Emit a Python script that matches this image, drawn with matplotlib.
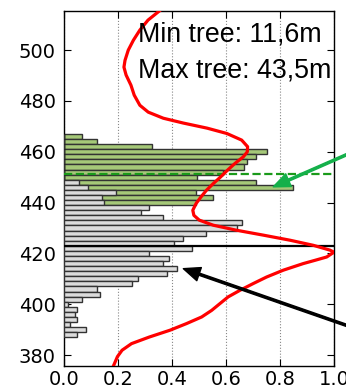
import numpy as np
import matplotlib
matplotlib.use('Agg')
import matplotlib.pyplot as plt

# height classes (lower edge, m), 2 m wide
bin_low = np.arange(465, 385, -2)

# all trees (grey) and upper layer (green), relative frequency
grey_vals = [0, 0, 0, 0, 0, 0, 0, 0, 0,
             0.057, 0.090, 0.191, 0.142, 0.149, 0.316, 0.284, 0.365,
             0.660, 0.642, 0.525, 0.442, 0.407, 0.475, 0.316, 0.390,
             0.365, 0.420, 0.383, 0.275, 0.251, 0.123, 0.132, 0.065,
             0.016, 0.049, 0.041, 0.049, 0.022, 0.081, 0.047]
green_vals = [0.065, 0.123, 0.326, 0.751, 0.710, 0.677, 0.668, 0.590, 0.494,
              0.710, 0.849, 0.49, 0.55, 0.49] + [0] * 26

# density curve (height, scaled density)
kde_h = [515.4, 511.8, 507.9, 503.9, 500.0, 496.0, 493.3, 490.2, 486.2, 482.3,
         478.3, 475.6, 473.2, 471.3, 469.3, 467.2, 464.6, 462.0, 460.0, 458.0,
         455.4, 452.8, 450.1, 447.5, 444.9, 442.2, 439.6, 437.0, 435.0, 433.1,
         431.1, 429.1, 427.2, 425.2, 423.2, 421.3, 420.5, 418.6, 417.3, 416.0,
         413.4, 410.7, 408.1, 405.5, 402.9, 400.3, 397.6, 395.0, 392.4, 389.8,
         387.1, 384.5, 381.9, 379.4, 375.7]
kde_d = [0.353, 0.311, 0.281, 0.257, 0.238, 0.226, 0.222, 0.230, 0.248, 0.260,
         0.281, 0.312, 0.368, 0.442, 0.530, 0.603, 0.658, 0.680, 0.679, 0.664,
         0.633, 0.606, 0.580, 0.553, 0.528, 0.507, 0.489, 0.477, 0.481, 0.501,
         0.553, 0.640, 0.738, 0.837, 0.923, 0.985, 1.000, 0.973, 0.930, 0.886,
         0.812, 0.750, 0.700, 0.652, 0.608, 0.578, 0.547, 0.510, 0.454, 0.393,
         0.316, 0.250, 0.215, 0.198, 0.183]

min_tree = 11.6
max_tree = 43.5
top_layer = 451.2
mean_level = 423.1

fig = plt.figure(figsize=(3.46, 3.89), dpi=100)
ax = fig.add_axes([64 / 346, 23 / 389, 270 / 346, 355 / 389])

centers = bin_low + 1
ax.barh(centers, green_vals, height=2, color='#a5c878', edgecolor='#333333',
        linewidth=1, zorder=2)
ax.barh(centers, grey_vals, height=2, color='#dcdcdc', edgecolor='#333333',
        linewidth=1, zorder=3)

ax.axhline(top_layer, color='#1a9a1a', linestyle='--', linewidth=1.6, zorder=4)
ax.axhline(mean_level, color='black', linewidth=1.6, zorder=4)
ax.plot(kde_d, kde_h, color='red', linewidth=2.3, zorder=5)

ax.set_xlim(0, 1.0)
ax.set_ylim(375.7, 515.4)
ax.set_xticks(np.arange(0, 1.01, 0.2))
ax.set_xticklabels(['%.1f' % v for v in np.arange(0, 1.01, 0.2)])
ax.set_yticks(range(380, 501, 20))
ax.tick_params(direction='in', top=True, right=True, length=5, labelsize=14)
ax.tick_params(axis='y', pad=6)
ax.tick_params(axis='x', pad=3)
ax.grid(axis='x', linestyle=':', color='#888888', linewidth=0.8)
ax.set_axisbelow(True)
for s in ax.spines.values():
    s.set_linewidth(1.0)

fig.text(138 / 346, 1 - 41.7 / 389, 'Min tree: %s' % str(min_tree).replace('.', ',') + 'm',
         fontsize=19.3, family='Liberation Sans', va='baseline', zorder=6)
fig.text(138 / 346, 1 - 77.3 / 389, 'Max tree: %s' % str(max_tree).replace('.', ',') + 'm',
         fontsize=19.3, family='Liberation Sans', va='baseline', zorder=6)

ax.annotate('', xy=(0.775, 446.2), xycoords='data',
            xytext=(380 / 346, 1 - 140 / 389), textcoords='figure fraction',
            arrowprops=dict(facecolor='#14b04a', edgecolor='#14b04a', width=1.6,
                            headwidth=10, headlength=12, shrink=0),
            annotation_clip=False, zorder=7)
ax.annotate('', xy=(0.442, 414.0), xycoords='data',
            xytext=(380 / 346, 1 - 337 / 389), textcoords='figure fraction',
            arrowprops=dict(facecolor='black', edgecolor='black', width=1.6,
                            headwidth=10, headlength=12, shrink=0),
            annotation_clip=False, zorder=7)

fig.savefig('out.png', dpi=100)
